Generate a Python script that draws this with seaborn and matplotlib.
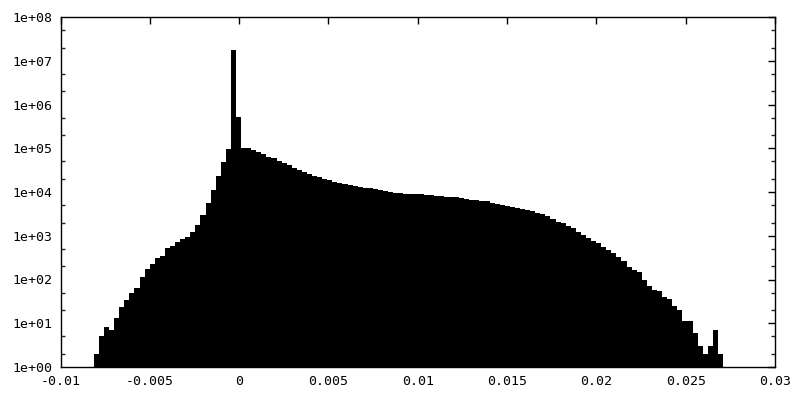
import numpy as np
import pandas as pd
import matplotlib
matplotlib.use("Agg")
import matplotlib.pyplot as plt
import matplotlib.ticker as mticker
import seaborn as sns

# histogram layout
bin_start = -0.00813
bin_width = 0.000284

# counts per bin, left to right
counts = [
    2, 5, 8, 7, 13, 23, 34, 49, 65, 114,
    174, 226, 305, 345, 517, 583, 731, 843, 951, 1199,
    1762, 2980, 5690, 11100, 23200, 47800, 97700, 17600000, 518000, 103000,
    99800, 91200, 80800, 72700, 64100, 60800, 51900, 46700, 41400, 35400,
    31900, 29100, 25800, 23600, 22000, 19800, 18800, 17200, 16300, 15200,
    14700, 13900, 12800, 12600, 12500, 11500, 10900, 10500, 10200, 9340,
    9300, 9000, 8990, 8860, 8850, 8530, 8500, 8230, 8200, 7690,
    7650, 7600, 7410, 6920, 6560, 6550, 6130, 6100, 5690, 5400,
    5130, 4860, 4620, 4380, 4150, 3880, 3620, 3370, 3090, 2830,
    2380, 2100, 1930, 1700, 1480, 1240, 1040, 889, 771, 672,
    562, 472, 397, 332, 265, 190, 165, 151, 97, 71,
    58, 54, 40, 35, 25, 20, 11, 11, 6, 3,
    2, 3, 7, 2,
]

x_ticks = [-0.01, -0.005, 0, 0.005, 0.01, 0.015, 0.02, 0.025, 0.03]
x_labels = ["-0.01", "-0.005", "0", "0.005", "0.01", "0.015", "0.02", "0.025", "0.03"]
y_ticks = [1e0, 1e1, 1e2, 1e3, 1e4, 1e5, 1e6, 1e7, 1e8]
y_labels = ["1e+00", "1e+01", "1e+02", "1e+03", "1e+04", "1e+05", "1e+06", "1e+07", "1e+08"]

edges = (bin_start + bin_width * np.arange(len(counts) + 1)).tolist()
df = pd.DataFrame({
    "value": [(a + b) / 2 for a, b in zip(edges[:-1], edges[1:])],
    "count": counts,
})

sns.set_style("white")
plt.rcParams["font.family"] = ["DejaVu Sans Mono", "DejaVu Sans"]

fig = plt.figure(figsize=(8, 4), dpi=100)
ax = fig.add_axes([60.5 / 800, 1 - 367 / 400, (775 - 60.5) / 800, (367 - 17) / 400])

# solid black bars, no seams between neighbours
sns.histplot(data=df, x="value", weights="count", bins=edges, color="black",
             edgecolor="none", linewidth=0, alpha=1, antialiased=False, ax=ax)
ax.set_yscale("log")

ax.set_xlim(-0.01, 0.03)
ax.set_ylim(1, 1e8)
ax.set_xticks(x_ticks)
ax.set_xticklabels(x_labels)
ax.set_yticks(y_ticks)
ax.set_yticklabels(y_labels)
ax.xaxis.set_minor_locator(mticker.NullLocator())
ax.yaxis.set_minor_locator(mticker.LogLocator(base=10, subs=[2, 5], numticks=20))
ax.yaxis.set_minor_formatter(mticker.NullFormatter())
ax.set_xlabel("")
ax.set_ylabel("")

for s in ax.spines.values():
    s.set_color("black")
    s.set_linewidth(1)
ax.tick_params(which="major", direction="in", length=5, width=1, top=True, right=True,
               labelsize=9.5, colors="black", pad=6)
ax.tick_params(which="minor", direction="in", length=3, width=1, left=True, right=True)

fig.savefig("out.png", dpi=100, facecolor="white")
